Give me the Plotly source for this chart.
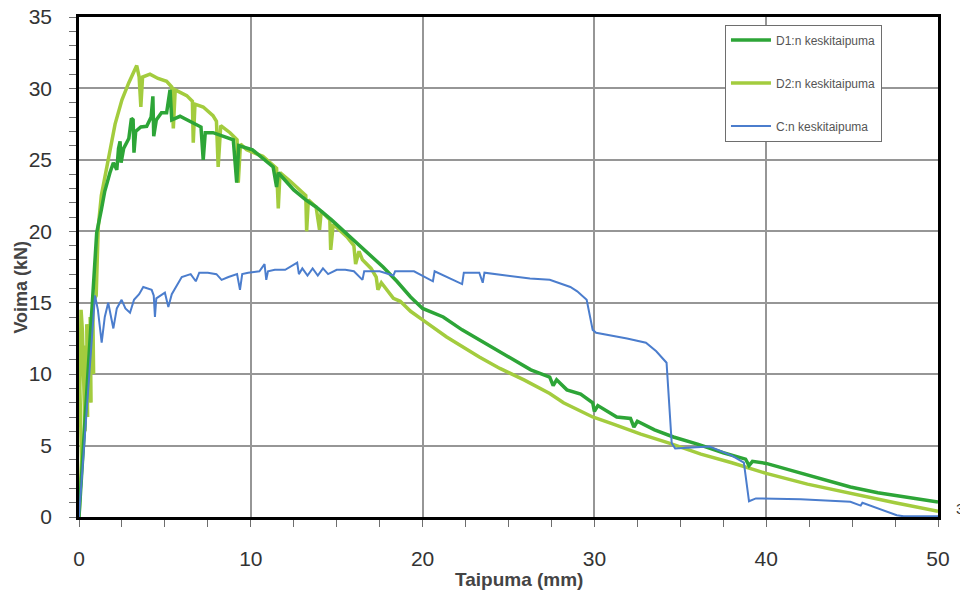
import plotly.graph_objects as go

# ---- data ----
d1_x = [0, 0.3, 0.6, 0.85, 1.03, 1.3, 1.5, 1.8, 2.0, 2.2, 2.3, 2.39, 2.45, 2.6, 2.9, 3.05, 3.15, 3.2, 3.3, 3.6,
        3.94, 4.2, 4.3, 4.35, 4.5, 4.8, 5.1, 5.3, 5.4, 5.88, 6.3, 6.65, 7.1, 7.23, 7.35, 7.8, 8.5, 8.98, 9.18, 9.3,
        10.1, 10.7, 11.3, 11.5, 11.6, 12.5, 13.2, 13.8, 14.7, 15.6, 16.5, 17.7, 18.5, 19.3, 20.0, 21.2, 22.3, 23.3,
        24.8, 26.3, 27.4, 27.6, 27.8, 28.4, 29.2, 29.9, 30.0, 30.2, 31.3, 32.1, 32.3, 32.5, 33.5, 34.6, 36.0, 37.5,
        38.8, 39.0, 39.2, 40.0, 41.5, 43.2, 44.9, 46.5, 48.2, 50.0]
d1_y = [0, 6, 12, 17, 19.9, 21.5, 22.8, 24.1, 24.8, 24.3, 25.8, 26.3, 24.8, 25.8, 26.5, 27.9, 27.8, 25.5, 27.0, 27.3,
        27.35, 28.0, 29.45, 26.65, 27.8, 28.3, 28.3, 29.9, 27.8, 28.05, 27.8, 27.6, 27.3, 25.0, 26.9, 26.9, 26.6, 26.4, 23.4, 26.0,
        25.7, 25.1, 24.5, 23.1, 24.1, 22.9, 22.2, 21.7, 20.8, 19.8, 18.8, 17.5, 16.5, 15.4, 14.6, 14.0, 13.1, 12.4,
        11.3, 10.3, 9.8, 9.2, 9.6, 8.9, 8.6, 8.0, 7.4, 7.8, 7.0, 6.9, 6.3, 6.7, 6.1, 5.6, 5.1, 4.5,
        4.05, 3.6, 3.9, 3.75, 3.25, 2.65, 2.1, 1.7, 1.4, 1.05]

d2_x = [0, 0.15, 0.05, 0.12, 0.2, 0.35, 0.3, 0.5, 0.45, 0.7, 0.65, 0.85, 0.8, 1.0, 1.12, 1.3, 1.7, 2.1, 2.5, 2.9,
        3.36, 3.5, 3.6, 3.7, 4.13, 4.6, 5.1, 5.4, 5.49, 5.6, 6.27, 6.6, 6.65, 6.75, 7.23, 7.8, 8.0, 8.1, 8.25, 8.79,
        9.2, 9.27, 9.4, 9.76, 10.7, 11.1, 11.5, 11.6, 11.7, 12.3, 12.86, 13.2, 13.25, 13.35, 13.8, 14.0, 14.1, 14.6,
        14.65, 14.8, 15.6, 16.0, 16.1, 16.3, 16.5, 17.0, 17.3, 17.4, 17.6, 18.3, 18.7, 19.3, 20.0, 21.4, 23.3, 24.5,
        25.9, 27.4, 28.2, 29.9, 31.1, 32.7, 34.4, 36.2, 38.0, 40.0, 42.4, 44.9, 47.5, 50.0]
d2_y = [0, 4, 9, 14.5, 13, 6, 12, 7, 13.5, 8, 14, 10, 15, 15.5, 20.3, 22.5, 25.0, 27.5, 29.2, 30.4,
        31.6, 30.8, 28.7, 30.8, 31.0, 30.7, 30.5, 30.1, 27.2, 29.9, 29.5, 29.1, 26.2, 28.9, 28.7, 28.1, 27.7, 24.5, 27.4, 26.9,
        26.4, 23.4, 26.1, 25.7, 25.25, 24.8, 24.4, 21.6, 24.1, 23.5, 22.9, 22.5, 20.0, 22.2, 21.7, 20.1, 21.4, 20.8,
        18.7, 20.5, 19.6, 19.0, 17.7, 18.6, 18.0, 17.4, 16.8, 15.9, 16.4, 15.3, 15.1, 14.4, 13.8, 12.6, 11.2, 10.4,
        9.6, 8.65, 8.0, 7.0, 6.5, 5.8, 5.15, 4.4, 3.8, 3.05, 2.3, 1.65, 1.0, 0.4]

c_x = [0, 0.5, 0.93, 1.1, 1.32, 1.5, 1.7, 2.0, 2.2, 2.48, 2.7, 2.97, 3.2, 3.5, 3.74, 4.23, 4.35, 4.42, 4.5, 5.0,
       5.2, 5.4, 5.98, 6.5, 6.8, 7.0, 7.5, 8.0, 8.3, 8.7, 9.2, 9.37, 9.5, 9.85, 10.5, 10.8, 10.9, 11.0, 11.4, 12.0,
       12.7, 12.8, 13.0, 13.3, 13.6, 13.9, 14.2, 14.5, 15.0, 15.5, 16.0, 16.5, 16.6, 17.5, 18.3, 18.4, 19.5, 20.6,
       20.7, 22.3, 22.4, 23.3, 23.5, 23.6, 25.0, 26.25, 27.4, 28.6, 29.0, 29.55, 29.9, 30.1, 31.9, 33.0, 33.6, 34.2,
       34.5, 34.7, 36.7, 38.0, 38.7, 39.0, 39.4, 42.0, 44.9, 45.5, 45.6, 46.5, 47.6, 48.0, 50.0]
c_y = [0, 8, 15.5, 14.5, 12.2, 14.0, 15.0, 13.2, 14.6, 15.2, 14.6, 14.3, 15.2, 15.6, 16.1, 15.9, 15.5, 14.0, 15.3, 15.7,
       14.7, 15.6, 16.8, 17.0, 16.5, 17.1, 17.1, 17.0, 16.6, 16.8, 17.0, 15.9, 17.0, 17.1, 17.2, 17.7, 16.6, 17.2, 17.3, 17.3,
       17.8, 17.0, 17.4, 16.9, 17.4, 16.9, 17.4, 17.0, 17.3, 17.3, 17.2, 16.6, 17.2, 17.2, 16.9, 17.2, 17.2, 16.5,
       17.2, 16.3, 17.1, 17.1, 16.4, 17.1, 16.9, 16.7, 16.6, 16.1, 15.8, 15.2, 13.1, 12.9, 12.5, 12.2, 11.6, 10.8,
       5.16, 4.8, 4.93, 4.3, 3.8, 1.1, 1.3, 1.25, 1.07, 0.8, 1.0, 0.6, 0.12, 0.05, 0.05]

names = ["D1:n keskitaipuma", "D2:n keskitaipuma", "C:n keskitaipuma"]
x_ticks = [0, 10, 20, 30, 40, 50]
y_ticks = [0, 5, 10, 15, 20, 25, 30, 35]

fig = go.Figure()
fig.add_trace(go.Scatter(x=d2_x, y=d2_y, mode="lines", name=names[1], legendrank=2, legendgroup="b",
                         line=dict(color="rgb(163,204,62)", width=3.5)))
fig.add_trace(go.Scatter(x=d1_x, y=d1_y, mode="lines", name=names[0], legendrank=1, legendgroup="a",
                         line=dict(color="rgb(45,165,55)", width=3.5)))
fig.add_trace(go.Scatter(x=c_x, y=c_y, mode="lines", name=names[2], legendrank=3, legendgroup="c",
                         line=dict(color="rgb(75,125,205)", width=2)))

axis_common = dict(
    showline=True, mirror=True, linecolor="black", linewidth=2.5,
    showgrid=True, gridcolor="rgb(150,150,150)", gridwidth=1.5,
    zeroline=False, ticks="outside", ticklen=7, tickcolor="rgb(110,110,110)", tickwidth=1,
    automargin=False, ticklabeloverflow="allow",
    tickfont=dict(family="Liberation Sans, Arial, sans-serif", size=21, color="#333"),
)

fig.update_xaxes(range=[0, 50], tickvals=x_ticks, ticklabelstandoff=14,
                 minor=dict(dtick=2.5, ticks="outside", ticklen=7, tickcolor="rgb(110,110,110)", showgrid=False),
                 **axis_common)
fig.update_yaxes(range=[0, 35], tickvals=y_ticks, ticklabelstandoff=13,
                 minor=dict(dtick=1, ticks="outside", ticklen=7, tickcolor="rgb(110,110,110)", showgrid=False),
                 **axis_common)

# the page body adds an 8px offset, so the margins compensate for it
fig.update_layout(
    width=968, height=597,
    margin=dict(l=71, r=38, t=9, b=88),
    paper_bgcolor="white", plot_bgcolor="white",
    showlegend=True,
    legend=dict(x=0.752, y=0.985, xanchor="left", yanchor="top",
                bgcolor="white", bordercolor="rgb(110,110,110)", borderwidth=1,
                font=dict(family="Liberation Sans, Arial, sans-serif", size=12, color="#555"),
                tracegroupgap=24, itemwidth=40),
    annotations=[
        dict(text="<b>Taipuma (mm)</b>", x=0.512, y=-0.125, xref="paper", yref="paper",
             xanchor="center", yanchor="middle", showarrow=False,
             font=dict(family="Liberation Sans, Arial, sans-serif", size=19, color="#444")),
        dict(text="<b>Voima (kN)</b>", x=-0.068, y=0.46, xref="paper", yref="paper",
             xanchor="center", yanchor="middle", showarrow=False, textangle=-90,
             font=dict(family="Liberation Sans, Arial, sans-serif", size=18, color="#444")),
        dict(text="3", x=1.0256, y=0.018, xref="paper", yref="paper",
             xanchor="center", yanchor="middle", showarrow=False,
             font=dict(family="Liberation Sans, Arial, sans-serif", size=15, color="#333")),
    ],
)

fig.write_html("out.html")
